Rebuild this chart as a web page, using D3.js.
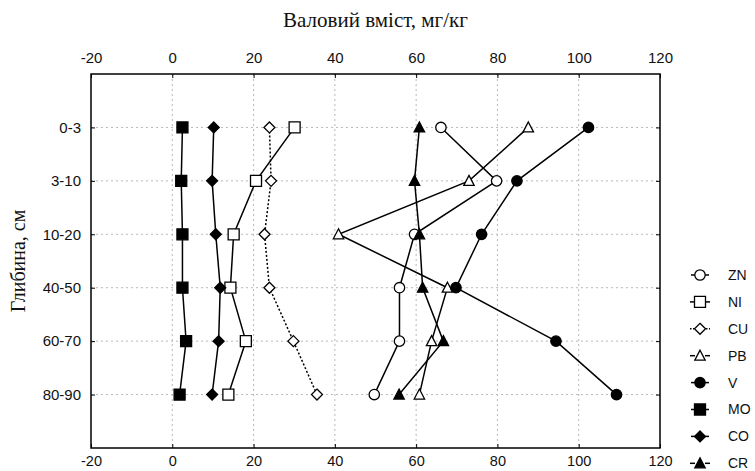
<!DOCTYPE html>
<html><head><meta charset="utf-8">
<script src="https://cdn.jsdelivr.net/npm/d3@7"></script>
<style>body{margin:0;background:#fff}</style>
</head><body>
<script>
const depths = ["0-3","3-10","10-20","40-50","60-70","80-90"];
const xTicks = [-20,0,20,40,60,80,100,120];
const seriesNames = ["ZN","NI","CU","PB","V","MO","CO","CR"];
const ZN = [66.1,79.8,59.6,55.9,55.9,49.7];
const NI = [30.1,20.6,15.1,14.3,18.1,13.8];
const CU = [23.9,24.3,22.7,23.9,29.8,35.6];
const PB = [87.6,73.0,40.9,67.7,63.8,60.8];
const V  = [102.4,84.8,76.1,69.8,94.4,109.3];
const MO = [2.5,2.2,2.5,2.5,3.4,1.8];
const CO = [10.2,9.8,10.7,11.8,11.4,9.8];
const CR = [60.8,59.6,60.8,61.6,66.7,55.8];

const styles = {
  ZN:{shape:"circle",fill:"#fff",dash:null},
  NI:{shape:"square",fill:"#fff",dash:null},
  CU:{shape:"diamond",fill:"#fff",dash:"2,2"},
  PB:{shape:"triangle",fill:"#fff",dash:null},
  V:{shape:"circle",fill:"#000",dash:null},
  MO:{shape:"square",fill:"#000",dash:null},
  CO:{shape:"diamond",fill:"#000",dash:null},
  CR:{shape:"triangle",fill:"#000",dash:null}
};
const values = {ZN,NI,CU,PB,V,MO,CO,CR};

const W=755,H=471;
const svg=d3.select("body").append("svg").attr("width",W).attr("height",H);
const L=91,R=660,T=74,B=448;
const x=d3.scaleLinear().domain([-20,120]).range([L,R]);
const y=d3.scalePoint().domain(["",...depths,"  "]).range([T,B]);

// grid
const g=svg.append("g");
g.selectAll(".vg").data(xTicks.slice(1,-1)).enter().append("line")
 .attr("x1",d=>x(d)).attr("x2",d=>x(d)).attr("y1",T).attr("y2",B)
 .attr("stroke","#b8b8b8").attr("stroke-width",1).attr("stroke-dasharray","2,3");
g.selectAll(".hg").data(depths).enter().append("line")
 .attr("x1",L).attr("x2",R).attr("y1",d=>y(d)).attr("y2",d=>y(d))
 .attr("stroke","#b8b8b8").attr("stroke-width",1).attr("stroke-dasharray","2,3");

// axes
const font="'Liberation Sans', Arial, sans-serif";
const fmt=d=>String(d);
const axTop=svg.append("g").attr("transform",`translate(0,${T})`)
 .call(d3.axisTop(x).tickValues(xTicks).tickFormat(fmt).tickSize(-4).tickPadding(11));
const axBot=svg.append("g").attr("transform",`translate(0,${B})`)
 .call(d3.axisBottom(x).tickValues(xTicks).tickFormat(fmt).tickSize(-4).tickPadding(8));
const axL=svg.append("g").attr("transform",`translate(${L},0)`)
 .call(d3.axisLeft(y).tickValues(depths).tickSize(-4).tickPadding(10));
const axR=svg.append("g").attr("transform",`translate(${R},0)`)
 .call(d3.axisRight(y).tickValues(depths).tickSize(-4).tickFormat(""));
[axTop,axBot,axL,axR].forEach(a=>{
  a.select(".domain").remove();
  a.selectAll("line").attr("stroke","#000");
  a.selectAll("text").attr("font-family",font).attr("font-size",15).attr("fill","#111");
});
axBot.selectAll("text").attr("font-size",14.5);
svg.append("rect").attr("x",L).attr("y",T).attr("width",R-L).attr("height",B-T)
 .attr("fill","none").attr("stroke","#000").attr("stroke-width",1.5);

// titles
const serif="'Liberation Serif','Times New Roman',serif";
svg.append("text").attr("x",(L+R)/2).attr("y",27).attr("text-anchor","middle")
 .attr("font-family",serif).attr("font-size",21).attr("fill","#111").text("Валовий вміст, мг/кг");
svg.append("text").attr("transform",`translate(25,${(T+B)/2}) rotate(-90)`).attr("text-anchor","middle")
 .attr("font-family",serif).attr("font-size",20).attr("fill","#111").text("Глибина, см");

function symPath(shape){
  if(shape==="circle") return d3.symbol().type(d3.symbolCircle).size(85)();
  if(shape==="square") return "M-5.5,-5.5H5.5V5.5H-5.5Z";
  if(shape==="diamond") return "M0,-5.5L5.5,0L0,5.5L-5.5,0Z";
  return "M0,-5.5L5.2,4.5H-5.2Z";
}

const line=d3.line().x(d=>x(d.v)).y(d=>y(d.k));
const plot=svg.append("g");
seriesNames.forEach(n=>{
  const data=depths.map((k,i)=>({k,v:values[n][i]}));
  plot.append("path").datum(data).attr("d",line).attr("fill","none")
   .attr("stroke","#000").attr("stroke-width",1.5)
   .attr("stroke-dasharray",styles[n].dash);
});
seriesNames.forEach(n=>{
  const data=depths.map((k,i)=>({k,v:values[n][i]}));
  plot.selectAll(null).data(data).enter().append("path")
   .attr("d",symPath(styles[n].shape))
   .attr("transform",d=>`translate(${x(d.v)},${y(d.k)})`)
   .attr("fill",styles[n].fill).attr("stroke","#000").attr("stroke-width",1.3);
});

// legend
const lg=svg.append("g");
seriesNames.forEach((n,i)=>{
  const cy=275+i*26.9, cx=700;
  const st=styles[n];
  const segs = (n==="ZN"||n==="V"||n==="MO"||n==="CO") ? [[691,709]] :
               (n==="CU") ? [[690,694],[706,710]] : [[690,695],[705,710]];
  segs.forEach(s=>{
    lg.append("line").attr("x1",s[0]).attr("x2",s[1]).attr("y1",cy).attr("y2",cy)
      .attr("stroke","#000").attr("stroke-width",1.5).attr("stroke-dasharray",n==="CU"?"1.5,1.5":null);
  });
  lg.append("path").attr("d",symPath(st.shape)).attr("transform",`translate(${cx},${cy})`)
    .attr("fill",st.fill).attr("stroke","#000").attr("stroke-width",1.3);
  lg.append("text").attr("x",728).attr("y",cy).attr("dy","0.35em")
    .attr("font-family",font).attr("font-size",14).attr("fill","#111").text(n);
});
</script>
</body></html>
